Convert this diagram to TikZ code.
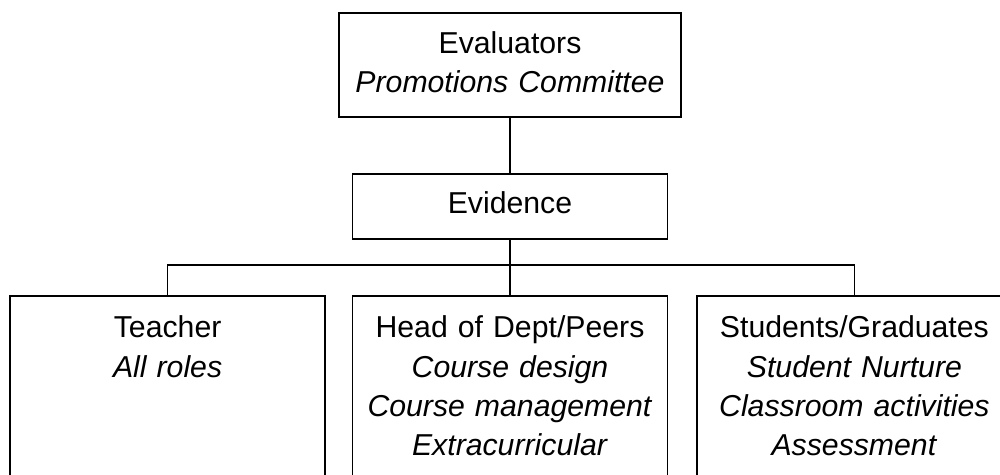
\documentclass[tikz,border=0pt]{standalone}
\usepackage{fontspec}
\setmainfont{Liberation Sans}
\tikzset{
  box/.style={draw, line width=1.1pt, rectangle, inner sep=0pt, align=center,
    font=\fontsize{21.5}{28}\selectfont, anchor=north},
  link/.style={line width=1.1pt}
}
\begin{document}
\begin{tikzpicture}
        \useasboundingbox (0,0) rectangle (25,-11.875);
        \fill[white] (0,0) rectangle (25,-11.875);
        \clip (0,0) rectangle (25,-11.875);
        \node[box, text width=8.55cm, text height=1.02cm, text depth=1.58cm] (eval) at (12.75,-0.3)
            {Evaluators\\ \textit{Promotions Committee}};
        \node[box, text width=7.875cm, text height=1.0cm, text depth=0.63cm] (evid) at (12.75,-4.325)
            {Evidence};
        \node[box, text width=7.875cm, text height=1.05cm, text depth=6cm] (teacher) at (4.19,-7.375)
            {Teacher\\ \textit{All roles}};
        \node[box, text width=7.875cm, text height=1.05cm, text depth=6cm] (head) at (12.75,-7.375)
            {Head of Dept/Peers\\ \textit{Course design}\\ \textit{Course management}\\ \textit{Extracurricular}};
        \node[box, text width=7.875cm, text height=1.05cm, text depth=6cm] (stud) at (21.36,-7.375)
            {Students/Graduates\\ \textit{Student Nurture}\\ \textit{Classroom activities}\\ \textit{Assessment}};
        \coordinate (bar) at (12.75,-6.625);
        \draw[link] (eval.south) -- (evid.north);
        \draw[link] (evid.south) -- (head.north);
        \draw[link] (teacher.north) |- (bar) -| (stud.north);
    \end{tikzpicture}
\end{document}
